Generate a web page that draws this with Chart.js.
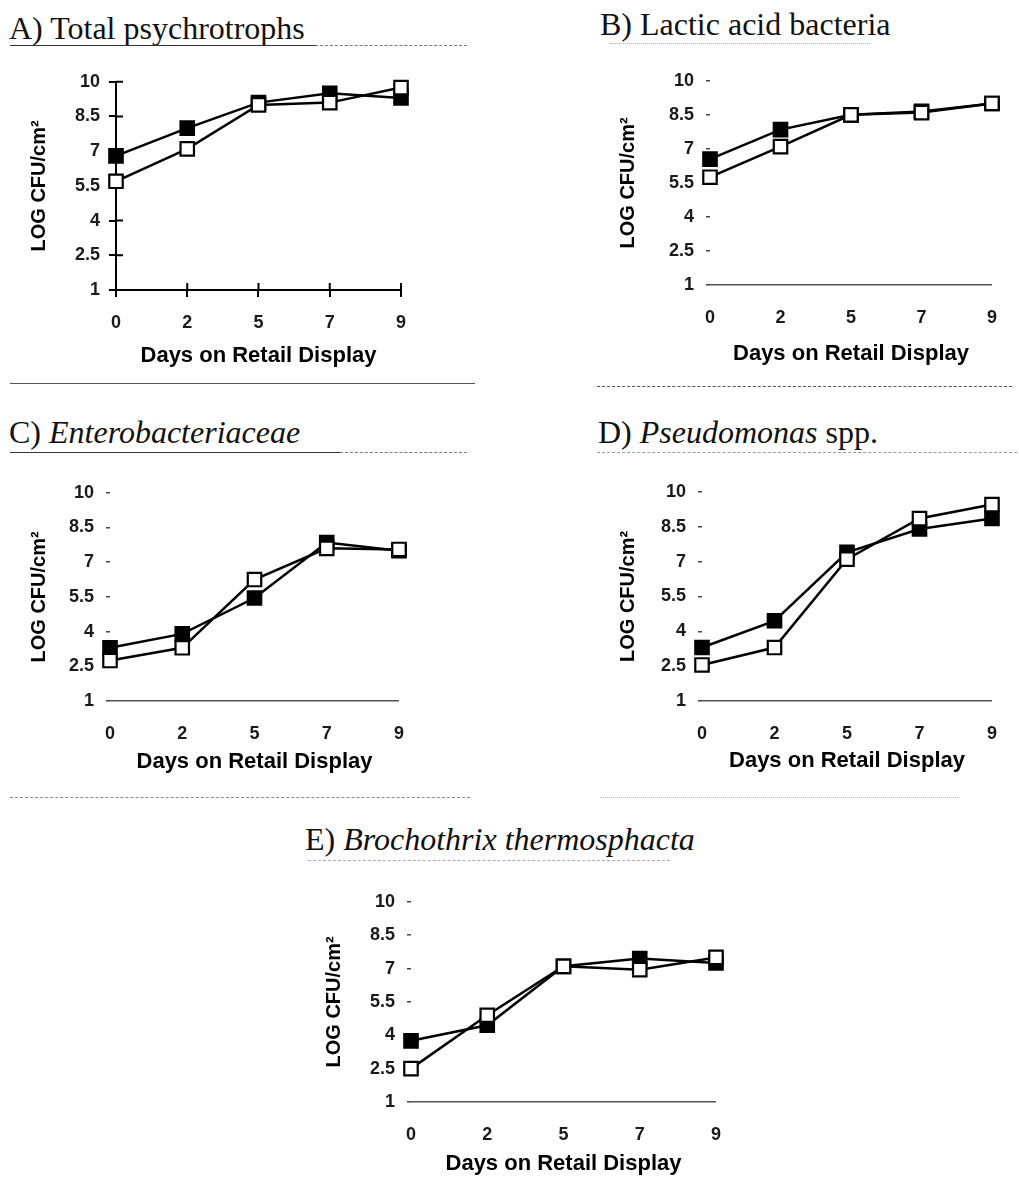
<!DOCTYPE html>
<html>
<head>
<meta charset="utf-8">
<script src="https://cdn.jsdelivr.net/npm/chart.js@4.4.0/dist/chart.umd.min.js"></script>
<style>
  body { margin: 0; background: #fff; width: 1019px; height: 1193px; position: relative; overflow: hidden; }
  .ttl { position: absolute; font-family: "Liberation Serif", "Times New Roman", serif; font-size: 32px; line-height: 32px; color: #111; white-space: nowrap; }
  .rule { position: absolute; height: 0; }
  canvas { position: absolute; }
</style>
</head>
<body>

<div class="ttl" style="left:9px;top:12px">A) Total psychrotrophs</div>
<div class="ttl" style="left:600px;top:8px">B) Lactic acid bacteria</div>
<div class="ttl" style="left:9px;top:416px">C) <i>Enterobacteriaceae</i></div>
<div class="ttl" style="left:598px;top:416px">D) <i>Pseudomonas</i> spp.</div>
<div class="ttl" style="left:305px;top:823px">E) <i>Brochothrix thermosphacta</i></div>

<!-- scanned rules under titles and between panels -->
<div class="rule" style="left:10px;top:45px;width:305px;border-top:1.5px solid #333"></div>
<div class="rule" style="left:315px;top:45px;width:152px;border-top:1.5px dashed #777"></div>
<div class="rule" style="left:610px;top:43px;width:260px;border-top:1px dotted #aaa"></div>
<div class="rule" style="left:10px;top:383px;width:465px;border-top:1.5px solid #555"></div>
<div class="rule" style="left:597px;top:386px;width:415px;border-top:1.5px dashed #555"></div>
<div class="rule" style="left:10px;top:452px;width:330px;border-top:1.5px solid #333"></div>
<div class="rule" style="left:340px;top:452px;width:127px;border-top:1.5px dashed #777"></div>
<div class="rule" style="left:597px;top:452px;width:420px;border-top:1px dashed #999"></div>
<div class="rule" style="left:10px;top:797px;width:460px;border-top:1px dashed #888"></div>
<div class="rule" style="left:600px;top:797px;width:360px;border-top:1px dotted #bbb"></div>
<div class="rule" style="left:308px;top:860px;width:362px;border-top:1px dashed #aaa"></div>

<canvas id="chartA" width="394" height="307" style="left:27px;top:62px"></canvas>
<canvas id="chartB" width="403" height="309" style="left:616px;top:58px"></canvas>
<canvas id="chartC" width="399" height="305" style="left:27px;top:470px"></canvas>
<canvas id="chartD" width="403" height="305" style="left:616px;top:469px"></canvas>
<canvas id="chartE" width="421" height="298" style="left:322px;top:879px"></canvas>

<script>
// Days on retail display (x categories) and y tick values
const days = ['0', '2', '5', '7', '9'];
const yTicks = [1, 2.5, 4, 5.5, 7, 8.5, 10];

// LOG CFU/cm2: filled squares / open squares
const psychroFilled = [6.8, 8.0, 9.1, 9.5, 9.3];
const psychroOpen = [5.7, 7.1, 9.0, 9.1, 9.75];
const lacticFilled = [6.55, 7.85, 8.5, 8.65, 9.0];
const lacticOpen = [5.75, 7.1, 8.5, 8.6, 9.0];
const enteroFilled = [3.3, 3.9, 5.45, 7.85, 7.5];
const enteroOpen = [2.75, 3.3, 6.25, 7.6, 7.55];
const pseudoFilled = [3.3, 4.45, 7.4, 8.4, 8.85];
const pseudoOpen = [2.55, 3.3, 7.1, 8.85, 9.45];
const brochoFilled = [3.75, 4.45, 7.1, 7.45, 7.25];
const brochoOpen = [2.5, 4.9, 7.1, 6.95, 7.5];

// draws the inner half of the crossing tick marks (panel A only)
const crossTicks = {
  id: 'crossTicks',
  beforeDatasetsDraw(chart) {
    const { ctx, scales: { x, y }, chartArea } = chart;
    ctx.save();
    ctx.strokeStyle = '#000';
    ctx.lineWidth = 2;
    ctx.beginPath();
    yTicks.forEach(v => {
      const py = y.getPixelForValue(v);
      ctx.moveTo(chartArea.left, py);
      ctx.lineTo(chartArea.left + 7, py);
    });
    days.forEach((d, i) => {
      const px = x.getPixelForValue(i);
      ctx.moveTo(px, chartArea.bottom);
      ctx.lineTo(px, chartArea.bottom - 7);
    });
    ctx.stroke();
    ctx.restore();
  }
};

function makePanel(id, filled, open, opt) {
  const solid = opt.solidAxes;
  new Chart(document.getElementById(id), {
    type: 'line',
    data: {
      labels: days,
      datasets: [
        {
          data: open,
          borderColor: '#000', borderWidth: 2.5,
          pointStyle: 'rect', pointRadius: 9.5, pointHoverRadius: 9.5,
          pointBackgroundColor: '#fff', pointBorderColor: '#000', pointBorderWidth: 2.2,
          tension: 0, clip: false
        },
        {
          data: filled,
          borderColor: '#000', borderWidth: 2.5,
          pointStyle: 'rect', pointRadius: 9.5, pointHoverRadius: 9.5,
          pointBackgroundColor: '#000', pointBorderColor: '#000', pointBorderWidth: 2.2,
          tension: 0, clip: false
        }
      ]
    },
    options: {
      responsive: false,
      animation: false,
      events: [],
      layout: { autoPadding: false, padding: { left: 0, top: 14, right: opt.right, bottom: 0 } },
      plugins: { legend: { display: false }, tooltip: { enabled: false } },
      scales: {
        x: {
          type: 'category',
          offset: false,
          afterFit: s => { s.height = opt.xH; },
          border: solid ? { display: true, color: '#000', width: 2 }
                        : { display: true, color: '#555', width: 1.5, dash: [9, 4] },
          grid: solid ? { display: true, drawOnChartArea: false, drawTicks: true, tickLength: 7, color: '#000', lineWidth: 2 }
                      : { display: false, drawTicks: false },
          ticks: { color: '#1a1a1a', padding: solid ? 15 : 22, font: { family: 'Liberation Sans, Arial, sans-serif', size: 18, weight: 'bold' } },
          title: {
            display: true, text: 'Days on Retail Display', color: '#000', padding: 0,
            font: { family: 'Liberation Sans, Arial, sans-serif', size: 22, weight: 'bold' }
          }
        },
        y: {
          min: 1, max: 10,
          afterFit: s => { s.width = opt.yW; },
          afterBuildTicks: s => { s.ticks = yTicks.map(v => ({ value: v })); },
          border: solid ? { display: true, color: '#000', width: 2 } : { display: false },
          grid: solid ? { display: true, drawOnChartArea: false, drawTicks: true, tickLength: 7, color: '#000', lineWidth: 2 }
                      : { display: true, drawOnChartArea: false, drawTicks: true, tickLength: 4, color: '#444', lineWidth: 1.5 },
          ticks: {
            color: '#1a1a1a', padding: solid ? 9 : 12,
            font: { family: 'Liberation Sans, Arial, sans-serif', size: 18, weight: 'bold' },
            callback: v => String(v)
          },
          title: {
            display: true, text: 'LOG CFU/cm²', color: '#000', padding: 0,
            font: { family: 'Liberation Sans, Arial, sans-serif', size: 20, weight: 'bold' }
          }
        }
      }
    },
    plugins: solid ? [crossTicks] : []
  });
}

makePanel('chartA', psychroFilled, psychroOpen, { solidAxes: true, yW: 89, xH: 79, right: 14 });
makePanel('chartB', lacticFilled, lacticOpen, { solidAxes: false, yW: 94, xH: 82, right: 9 });
makePanel('chartC', enteroFilled, enteroOpen, { solidAxes: false, yW: 83, xH: 74, right: 14 });
makePanel('chartD', pseudoFilled, pseudoOpen, { solidAxes: false, yW: 86, xH: 73, right: 14 });
makePanel('chartE', brochoFilled, brochoOpen, { solidAxes: false, yW: 89, xH: 75, right: 14 });
</script>
</body>
</html>
